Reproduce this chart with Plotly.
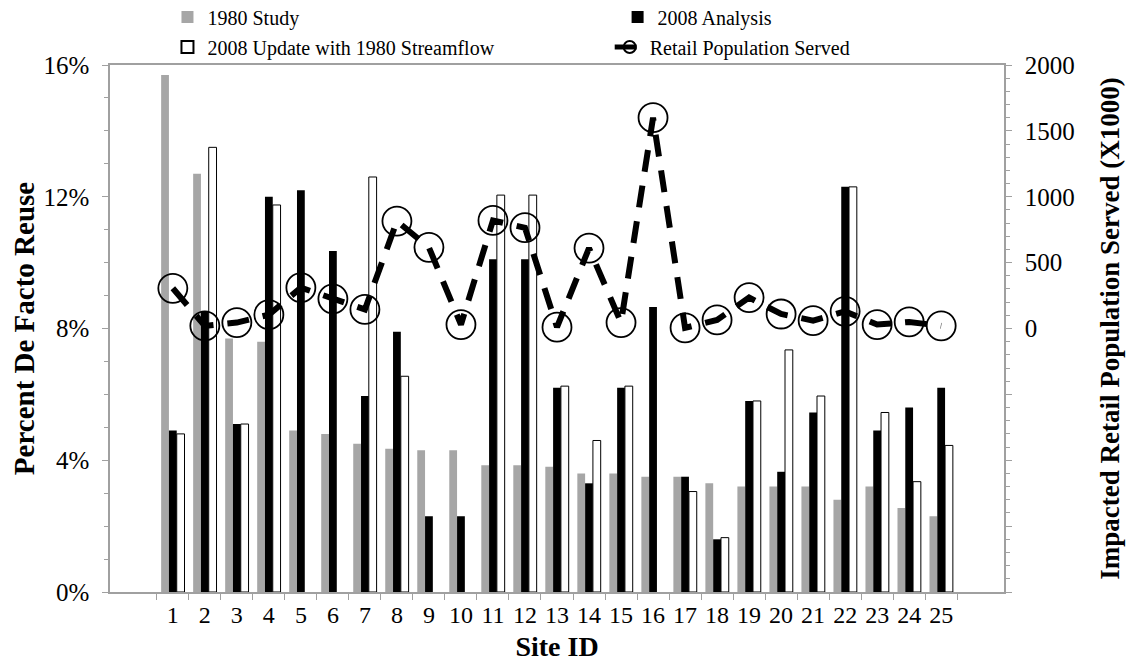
import plotly.graph_objects as go

sites = [str(i) for i in range(1, 26)]
study_1980 = [15.7, 12.7, 7.7, 7.6, 4.9, 4.8, 4.5, 4.35, 4.3, 4.3, 3.85, 3.85, 3.8, 3.6, 3.6,
              3.5, 3.5, 3.3, 3.2, 3.2, 3.2, 2.8, 3.2, 2.55, 2.3]
analysis_2008 = [4.9, 8.5, 5.1, 12.0, 12.2, 10.35, 5.95, 7.9, 2.3, 2.3, 10.1, 10.1, 6.2, 3.3, 6.2,
                 8.65, 3.5, 1.6, 5.8, 3.65, 5.45, 12.3, 4.9, 5.6, 6.2]
update_2008 = [4.8, 13.5, 5.1, 11.75, None, None, 12.6, 6.55, None, None, 12.05, 12.05, 6.25, 4.6, 6.25,
               None, 3.05, 1.65, 5.8, 7.35, 5.95, 12.3, 5.45, 3.35, 4.45]
population = [305, 20, 45, 105, 310, 225, 145, 815, 615, 30, 820, 765, 10, 610, 45,
              1600, 5, 65, 235, 110, 60, 130, 30, 50, 20]

right_ticks = [-2000, -1500, -1000, -500, 0, 500, 1000, 1500, 2000]
right_ticktext = ["" if v < 0 else str(v) for v in right_ticks]

FONT = "Liberation Serif"
AXIS_GRAY = "#a0a0a0"

def pct(vals):
    return [None if v is None else v / 100 for v in vals]

fig = go.Figure()
fig.add_trace(go.Bar(x=sites, y=pct(study_1980), name="1980 Study",
                     marker=dict(color="#a6a6a6", line=dict(width=0)), legend="legend"))
fig.add_trace(go.Bar(x=sites, y=pct(analysis_2008), name="2008 Analysis",
                     marker=dict(color="#000000", line=dict(width=0)), legend="legend2"))
fig.add_trace(go.Bar(x=sites, y=pct(update_2008), name="2008 Update with 1980 Streamflow",
                     marker=dict(color="#ffffff", line=dict(color="#000000", width=1)), legend="legend3"))
fig.add_trace(go.Scatter(x=sites, y=population, name="Retail Population Served", yaxis="y2",
                         mode="lines+markers",
                         line=dict(color="#000000", width=6, dash="22px,14px"),
                         marker=dict(symbol="circle-open", size=29, color="#000000",
                                     line=dict(width=1.8, color="#000000")),
                         legend="legend4"))

leg_common = dict(orientation="h", xref="container", yref="container", yanchor="middle",
                  xanchor="left", font=dict(family=FONT, size=20, color="#000"),
                  bgcolor="rgba(0,0,0,0)", itemsizing="constant")

fig.update_layout(
    width=1127, height=667,
    margin=dict(l=110, r=123, t=65, b=75, autoexpand=False),
    showlegend=True,
    paper_bgcolor="white", plot_bgcolor="white",
    barmode="group", bargap=0.27, bargroupgap=0,
    font=dict(family=FONT, size=25, color="#000"),
    legend=dict(x=0.1486, y=1 - 17 / 667, **leg_common),
    legend2=dict(x=0.548, y=1 - 17 / 667, **leg_common),
    legend3=dict(x=0.1486, y=1 - 47 / 667, **leg_common),
    legend4=dict(x=0.541, y=1 - 47 / 667, **leg_common),
    xaxis=dict(type="category", showline=True, linecolor=AXIS_GRAY, linewidth=1.5, mirror=True,
               ticks="outside", tickson="boundaries", ticklen=6, tickcolor=AXIS_GRAY,
               tickangle=0,
               tickfont=dict(family=FONT, size=24, color="#000"),
               title=dict(text="<b>Site ID</b>", font=dict(family=FONT, size=28), standoff=10),
               showgrid=False),
    yaxis=dict(range=[0, 0.16], tickvals=[0, 0.04, 0.08, 0.12, 0.16], tickformat=".0%",
               showline=True, linecolor=AXIS_GRAY, linewidth=1.5,
               ticks="outside", ticklen=6, tickcolor=AXIS_GRAY, ticklabelstandoff=8,
               minor=dict(dtick=0.01, ticks="outside", ticklen=4, tickcolor=AXIS_GRAY),
               tickfont=dict(family=FONT, size=25, color="#000"),
               title=dict(text="<b>Percent De Facto Reuse</b>", font=dict(family=FONT, size=29), standoff=0),
               showgrid=False, zeroline=False),
    yaxis2=dict(range=[-2000, 2000], overlaying="y", side="right", tickvals=right_ticks,
                ticktext=right_ticktext, showline=True, linecolor=AXIS_GRAY, linewidth=1.5,
                ticks="outside", ticklen=6, tickcolor=AXIS_GRAY, ticklabelstandoff=8,
                minor=dict(dtick=100, ticks="outside", ticklen=4, tickcolor=AXIS_GRAY),
                tickfont=dict(family=FONT, size=25, color="#000"),
                title=dict(text="<b>Impacted Retail Population Served (X1000)</b>",
                           font=dict(family=FONT, size=27), standoff=26),
                showgrid=False, zeroline=False),
)

fig.write_html("out.html")
